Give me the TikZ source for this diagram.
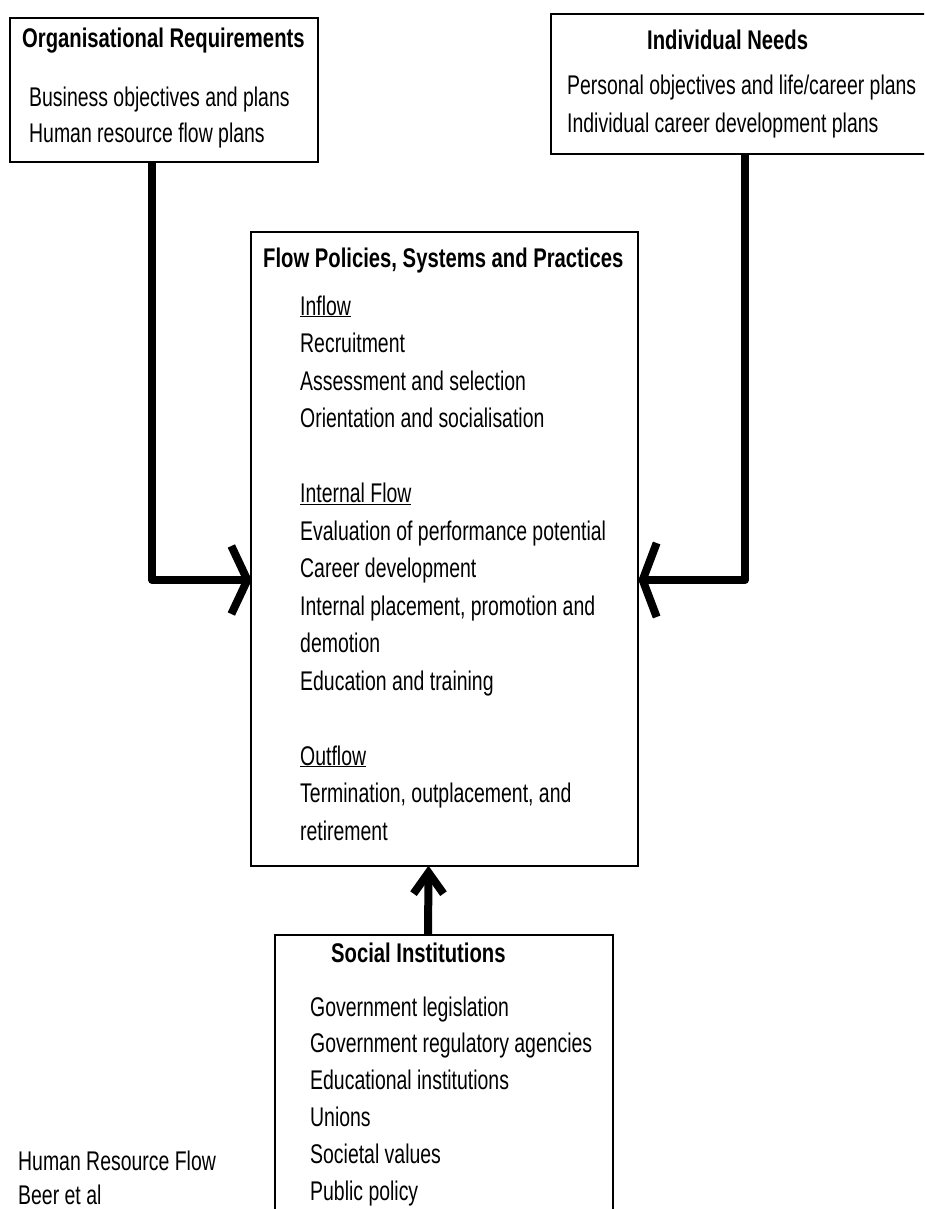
\documentclass[tikz,border=0pt]{standalone}
\usepackage{fontspec}
\setmainfont[FakeStretch=0.72, BoldFeatures={FakeStretch=0.75}]{Liberation Sans}
\usetikzlibrary{calc}

\tikzset{
  box/.style={draw=black, line width=1.3pt, fill=white, inner sep=0pt},
  conn/.style={draw=black, line width=8pt, line join=round, line cap=butt},
  barb/.style={draw=black, line width=8pt, line join=miter, line cap=butt},
  txt/.style={anchor=base west, inner sep=0pt, font=\fontsize{27}{30}\selectfont},
  ttl/.style={anchor=base west, inner sep=0pt, font=\fontsize{27}{30}\selectfont\bfseries},
}

\begin{document}
\begin{tikzpicture}[x=1pt, y=-1pt]
\clip (0,0) rectangle (924,1209);
\fill[white] (0,0) rectangle (924,1209);

% the four boxes
\node[box, minimum width=308pt, minimum height=144pt] (org) at (164,90) {};
\node[box, minimum width=388pt, minimum height=140pt] (ind) at (745,84) {};
\node[box, minimum width=387pt, minimum height=634pt] (fp) at (444.5,549) {};
\node[box, minimum width=338pt, minimum height=300pt] (soc) at (444,1085) {};

% organisational requirements
\node[ttl] (orgT) at (22,48) {Organisational Requirements};
\node[txt] (org1) at (29,107) {Business objectives and plans};
\node[txt] (org2) at (29,143) {Human resource flow plans};

% individual needs
\node[ttl] (indT) at (647,50) {Individual Needs};
\node[txt] (ind1) at (567,95) {Personal objectives and life/career plans};
\node[txt] (ind2) at (567,133) {Individual career development plans};

% flow policies, systems and practices
\node[ttl] (fpT) at (263,267) {Flow Policies, Systems and Practices};
\node[txt] (fp1)  at (300,315)   {\underline{Inflow}};
\node[txt] (fp2)  at (300,352.5) {Recruitment};
\node[txt] (fp3)  at (300,390)   {Assessment and selection};
\node[txt] (fp4)  at (300,427.5) {Orientation and socialisation};
\node[txt] (fp5)  at (300,502.5) {\underline{Internal Flow}};
\node[txt] (fp6)  at (300,540)   {Evaluation of performance potential};
\node[txt] (fp7)  at (300,577.5) {Career development};
\node[txt] (fp8)  at (300,615)   {Internal placement, promotion and};
\node[txt] (fp9)  at (300,652.5) {demotion};
\node[txt] (fp10) at (300,690)   {Education and training};
\node[txt] (fp11) at (300,765)   {\underline{Outflow}};
\node[txt] (fp12) at (300,802.5) {Termination, outplacement, and};
\node[txt] (fp13) at (300,840)   {retirement};

% social institutions
\node[ttl] (socT) at (331,962) {Social Institutions};
\node[txt] (soc1) at (310,1016)   {Government legislation};
\node[txt] (soc2) at (310,1052.8) {Government regulatory agencies};
\node[txt] (soc3) at (310,1089.6) {Educational institutions};
\node[txt] (soc4) at (310,1126.4) {Unions};
\node[txt] (soc5) at (310,1163.2) {Societal values};
\node[txt] (soc6) at (310,1200)   {Public policy};

% caption
\node[txt] (cap1) at (18,1170) {Human Resource Flow};
\node[txt] (cap2) at (18,1204) {Beer et al};

% connectors into the central box
\coordinate (tipL) at ($(fp.west |- 0,580)+(-3,0)$);
\coordinate (tipR) at ($(fp.east |- 0,580)+(4,0)$);
\coordinate (tipB) at ($(fp.south)+(-16,6)$);

\draw[conn] ([xshift=-12pt]org.south) |- ($(tipL)+(-2,0)$);
\draw[barb] ($(tipL)+(-16,-34)$) -- (tipL) -- ($(tipL)+(-16,34)$);

\draw[conn] (ind.south) |- ($(tipR)+(2,0)$);
\draw[barb] ($(tipR)+(14,-37)$) -- (tipR) -- ($(tipR)+(14,37)$);

\draw[conn] ([xshift=-16pt]soc.north) -- ($(tipB)+(0,2)$);
\draw[barb] ($(tipB)+(-15,21)$) -- (tipB) -- ($(tipB)+(15,21)$);
\end{tikzpicture}
\end{document}
